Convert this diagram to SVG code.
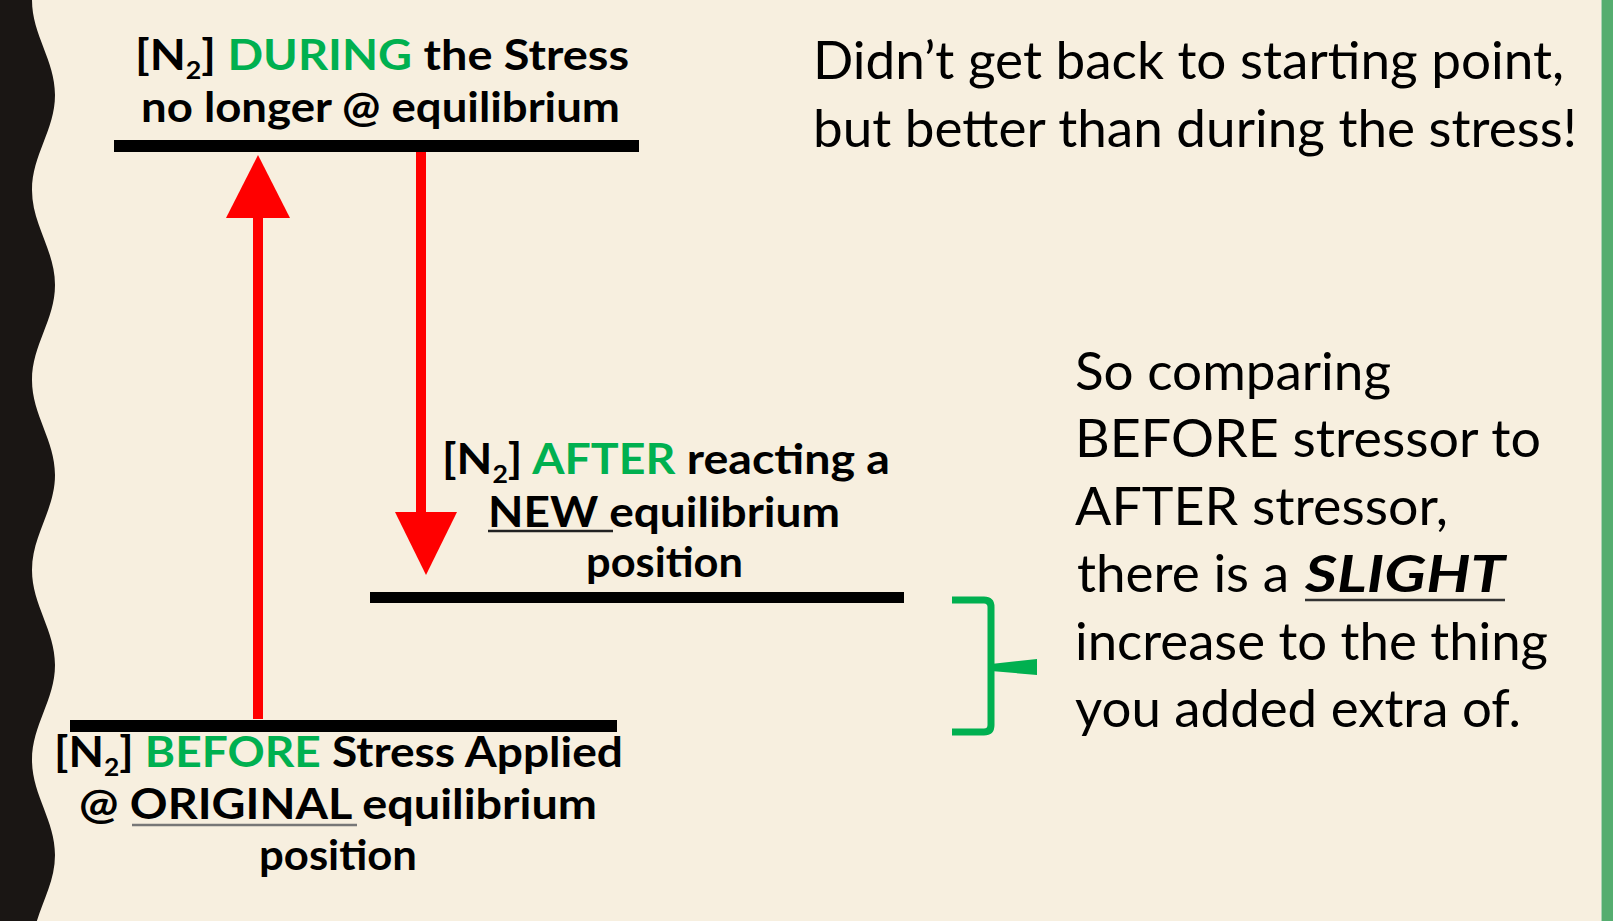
<svg xmlns="http://www.w3.org/2000/svg" width="1613" height="921" viewBox="0 0 1613 921">
<style>
.b{font-family:Lato,"Liberation Sans",sans-serif;font-weight:700;font-size:42px;fill:#000}
.r{font-family:Lato,"Liberation Sans",sans-serif;font-weight:400;font-size:52px;fill:#000}
.bi{font-family:Lato,"Liberation Sans",sans-serif;font-weight:700;font-style:italic;font-size:52px;fill:#000}
.g{fill:#00b050}
.bar{fill:#000}
.red{fill:#ff0000}
.ul{stroke-width:2.5}
</style>
<rect width="1613" height="921" fill="#f7efdf"/>
<path d="M0,0 L32,0 C32,35 55,60 55,95 C55,130 32,155 32,190 C32,225 55,250 55,285 C55,320 32,345 32,380 C32,415 55,440 55,475 C55,510 32,535 32,570 C32,605 55,630 55,665 C55,700 32,725 32,760 C32,795 55,820 55,855 C55,890 32,915 32,950 L0,950 Z" fill="#1a1614"/>
<rect x="1601" y="0" width="1" height="921" fill="#a9d3b2"/>
<rect x="1602" y="0" width="11" height="921" fill="#55ad6f"/>

<g id="connectors">
<rect class="red" x="253" y="216" width="10" height="503"/>
<polygon class="red" points="258,155 290,218 226,218"/>
<rect class="red" x="416" y="152" width="10" height="362"/>
<polygon class="red" points="395,512 457,512 426,575"/>
</g>

<g id="node-during">
<rect class="bar" x="114" y="140" width="525" height="12"/>
<text class="b" x="135" y="70" textLength="494" lengthAdjust="spacingAndGlyphs">[N<tspan dy="9" font-size="24">2</tspan><tspan dy="-9">] </tspan><tspan class="g">DURING</tspan> the Stress</text>
<text class="b" x="141" y="122" textLength="479" lengthAdjust="spacingAndGlyphs">no longer @ equilibrium</text>
</g>

<g id="node-after">
<rect class="bar" x="370" y="592" width="534" height="11"/>
<text class="b" x="442" y="474" textLength="448" lengthAdjust="spacingAndGlyphs">[N<tspan dy="9" font-size="24">2</tspan><tspan dy="-9">] </tspan><tspan class="g">AFTER</tspan> reacting a</text>
<text class="b" x="488" y="527" textLength="352" lengthAdjust="spacingAndGlyphs">NEW equilibrium</text>
<line class="ul" x1="488" y1="531" x2="613" y2="531" stroke="#222"/>
<text class="b" x="586" y="577" textLength="157" lengthAdjust="spacingAndGlyphs">position</text>
</g>

<g id="node-before">
<rect class="bar" x="70" y="720" width="547" height="12"/>
<text class="b" x="54" y="767" textLength="569" lengthAdjust="spacingAndGlyphs">[N<tspan dy="9" font-size="24">2</tspan><tspan dy="-9">] </tspan><tspan class="g">BEFORE</tspan> Stress Applied</text>
<text class="b" x="79" y="819" textLength="518" lengthAdjust="spacingAndGlyphs">@ ORIGINAL equilibrium</text>
<line class="ul" x1="132" y1="825" x2="357" y2="825" stroke="#777"/>
<text class="b" x="259" y="870" textLength="158" lengthAdjust="spacingAndGlyphs">position</text>
</g>

<g id="note-top">
<text class="r" x="813" y="79" textLength="751" lengthAdjust="spacingAndGlyphs">Didn’t get back to starting point,</text>
<text class="r" x="813" y="147" textLength="764" lengthAdjust="spacingAndGlyphs">but better than during the stress!</text>
</g>

<g id="bracket">
<path d="M952,600 L984,600 Q991,600 991,607 L991,725 Q991,732 984,732 L952,732" fill="none" stroke="#00b050" stroke-width="7"/>
<polygon points="991,664 1037,659 1037,675 991,671" fill="#00b050"/>
</g>

<g id="note-right">
<text class="r" x="1075" y="390" textLength="316" lengthAdjust="spacingAndGlyphs">So comparing</text>
<text class="r" x="1075" y="457" textLength="466" lengthAdjust="spacingAndGlyphs">BEFORE stressor to</text>
<text class="r" x="1075" y="525" textLength="373" lengthAdjust="spacingAndGlyphs">AFTER stressor,</text>
<text class="r" x="1077" y="592" textLength="212" lengthAdjust="spacingAndGlyphs">there is a</text>
<text class="bi" x="1305" y="592" textLength="200" lengthAdjust="spacingAndGlyphs">SLIGHT</text>
<line class="ul" x1="1305" y1="600" x2="1505" y2="600" stroke="#333"/>
<text class="r" x="1075" y="660" textLength="473" lengthAdjust="spacingAndGlyphs">increase to the thing</text>
<text class="r" x="1075" y="727" textLength="446" lengthAdjust="spacingAndGlyphs">you added extra of.</text>
</g>
</svg>
